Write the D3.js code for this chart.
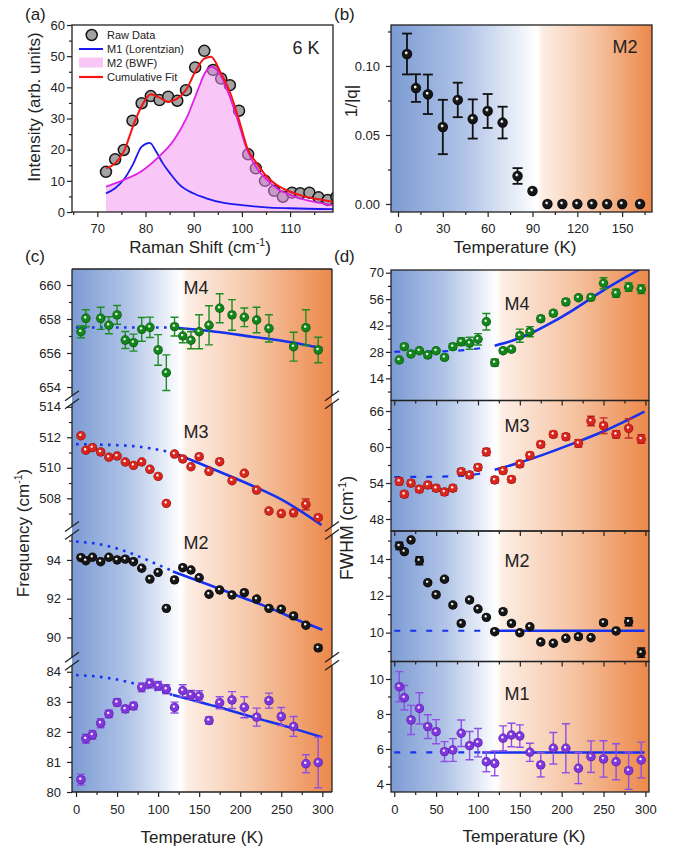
<!DOCTYPE html>
<html>
<head>
<meta charset="utf-8">
<script src="https://cdn.jsdelivr.net/npm/d3@7"></script>
<style>
  body { margin: 0; background: #ffffff; }
  svg { display: block; }
</style>
</head>
<body>
<svg id="fig" width="677" height="848"></svg>
<script>
// ---------- (a) Raman spectrum at 6 K ----------
const ramanShift   = [71.8, 73.7, 75.5, 77.3, 79.2, 81.1, 82.9, 84.7, 86.6, 88.4, 90.3, 92.2, 94.0, 95.7, 97.5, 99.4, 101.3, 102.9, 104.8, 106.7, 108.5, 110.4, 112.1, 114.0, 115.9, 117.8, 119.6];
const rawIntensity = [12.9, 16.9, 19.9, 29.3, 34.9, 37.2, 35.9, 37.0, 35.7, 39.1, 46.4, 51.7, 45.6, 42.8, 40.7, 32.5, 18.5, 14.0, 10.0, 6.8, 4.9, 6.2, 6.0, 6.2, 4.7, 3.85, 4.8];
const lorentzShift = [71.8, 73.7, 75.7, 77.5, 79.2, 80.9, 82.2, 83.6, 85.1, 87.1, 89.9, 92.6, 96, 100, 105, 110, 118.9];
const lorentzFit   = [6.0, 7.6, 10.8, 15.6, 21.0, 22.2, 19.4, 15.6, 12.4, 8.7, 6.0, 4.4, 3.0, 2.2, 1.5, 1.2, 0.9];
const bwfShift     = [71.8, 75.5, 79.0, 82.4, 85.9, 88.5, 91.0, 92.3, 93.7, 95.1, 96.8, 98.9, 101.0, 103.0, 105.2, 107.5, 110.0, 114.8, 118.9];
const bwfFit       = [8.1, 10.3, 12.9, 17.2, 23.1, 30.1, 39.7, 44.5, 46.6, 45.0, 39.7, 30.6, 20.2, 14.2, 10.3, 7.3, 5.5, 3.3, 2.2];
const cumShift     = [71.8, 73.7, 75.5, 77.5, 79.2, 81.1, 82.9, 84.7, 86.4, 88.5, 90.3, 92.2, 93.6, 95.5, 97.6, 99.6, 101.0, 103.1, 105.2, 107.2, 110.0, 112.8, 114.8, 119.0];
const cumFit       = [14.0, 15.6, 19.4, 27.9, 34.0, 37.8, 36.7, 35.4, 36.2, 39.4, 45.0, 49.2, 49.8, 45.0, 38.1, 28.5, 21.0, 15.6, 11.3, 8.7, 6.5, 5.1, 4.4, 3.3];
const legendLabels = ["Raw Data", "M1 (Lorentzian)", "M2 (BWF)", "Cumulative Fit"];

// ---------- (b) 1/|q| of M2 ----------
const tempQ   = [6, 12, 20, 30, 40, 50, 60, 70, 80, 90, 100, 110, 120, 130, 140, 150, 162];
const invQ    = [0.1087, 0.084, 0.0795, 0.0558, 0.0754, 0.0616, 0.0674, 0.059, 0.0203, 0.0094, 0, 0, 0, 0, 0, 0, 0];
const invQErr = [0.0148, 0.010, 0.0143, 0.0197, 0.0125, 0.0142, 0.0123, 0.0115, 0.0057, 0, 0, 0, 0, 0, 0, 0, 0];

// ---------- shared temperatures ----------
const tempAll    = [6, 12, 20, 30, 40, 50, 60, 70, 80, 90, 100, 110, 120, 130, 140, 150, 162, 175, 190, 205, 220, 235, 250, 265, 280, 295];
const tempM4Freq = [6, 12, 30, 40, 50, 60, 70, 80, 90, 100, 110, 120, 130, 140, 150, 162, 175, 190, 205, 220, 235, 265, 280, 295];

// ---------- (c) Frequency ----------
const freqM4    = [657.25, 658.04, 658.04, 657.63, 658.24, 656.76, 656.61, 657.39, 657.51, 656.18, 654.84, 657.55, 657.0, 656.75, 657.25, 657.63, 658.63, 658.24, 658.1, 657.94, 657.45, 656.37, 657.49, 656.18];
const freqM4Err = [0.35, 0.5, 0.65, 0.5, 0.55, 0.5, 0.5, 0.7, 0.6, 0.9, 1.05, 0.55, 0.4, 0.5, 1.0, 1.15, 0.85, 0.9, 0.55, 0.75, 0.8, 0.85, 1.05, 0.75];
const freqM3    = [512.1, 511.15, 511.32, 511.04, 510.69, 510.77, 510.38, 510.16, 510.38, 509.9, 509.44, 507.67, 510.9, 510.58, 510.07, 510.73, 509.77, 510.4, 509.15, 509.64, 508.54, 507.17, 507.0, 507.05, 507.6, 506.73];
const freqM3Err = [0.1, 0.1, 0.1, 0.1, 0.1, 0.1, 0.1, 0.1, 0.1, 0.1, 0.1, 0.1, 0.1, 0.1, 0.1, 0.1, 0.1, 0.1, 0.1, 0.1, 0.1, 0.1, 0.1, 0.1, 0.35, 0.1];
const freqM2    = [94.12, 93.96, 94.14, 93.91, 94.14, 94.0, 94.04, 93.91, 93.57, 93.01, 93.36, 91.5, 92.97, 93.6, 93.48, 93.08, 92.23, 92.45, 92.19, 92.31, 91.98, 91.5, 91.46, 91.11, 90.63, 89.46];
const freqM2Err = [0.05, 0.05, 0.05, 0.05, 0.05, 0.05, 0.05, 0.05, 0.05, 0.05, 0.05, 0.05, 0.05, 0.05, 0.05, 0.05, 0.05, 0.05, 0.05, 0.05, 0.05, 0.05, 0.05, 0.05, 0.05, 0.12];
const freqM1    = [80.41, 81.77, 81.9, 82.29, 82.6, 82.98, 82.76, 82.86, 83.48, 83.61, 83.53, 83.42, 82.81, 83.37, 83.23, 83.19, 82.38, 82.97, 83.06, 82.82, 82.49, 83.04, 82.51, 82.18, 80.94, 80.98];
const freqM1Err = [0.18, 0.15, 0.15, 0.15, 0.12, 0.12, 0.12, 0.12, 0.15, 0.15, 0.15, 0.15, 0.18, 0.2, 0.15, 0.18, 0.12, 0.2, 0.28, 0.35, 0.3, 0.25, 0.3, 0.33, 0.3, 0.84];

// anharmonic fits (low-T extrapolation and high-T fit)
const freqM4LowT  = [0, 118];                          const freqM4LowV  = [657.5, 657.5];
const freqM4HighT = [119, 170, 214, 260, 300];          const freqM4HighV = [657.5, 657.25, 656.96, 656.65, 656.28];
const freqM3LowT  = [0, 29, 70, 90, 110, 118];          const freqM3LowV  = [511.55, 511.52, 511.42, 511.28, 511.08, 511.0];
const freqM3HighT = [118, 150, 190, 220, 251, 299];     const freqM3HighV = [511.0, 510.3, 509.4, 508.7, 507.9, 506.25];
const freqM2LowT  = [0, 30, 60, 80, 100, 118];          const freqM2LowV  = [94.95, 94.8, 94.45, 94.12, 93.75, 93.42];
const freqM2HighT = [118, 160, 200, 240, 270, 300];     const freqM2HighV = [93.4, 92.75, 92.1, 91.45, 90.9, 90.4];
const freqM1LowT  = [0, 29, 62, 86, 118];               const freqM1LowV  = [83.89, 83.83, 83.67, 83.48, 83.23];
const freqM1HighT = [118, 170, 214, 260, 300];          const freqM1HighV = [83.23, 82.85, 82.5, 82.15, 81.82];

// ---------- (d) FWHM ----------
const fwhmM4    = [23.7, 30.8, 26.9, 28.6, 26.4, 28.6, 25.1, 30.8, 33.4, 32.6, 34.7, 44.0, 22.3, 28.6, 29.4, 36.6, 38.7, 45.6, 48.5, 54.5, 56.7, 56.9, 64.4, 59.1, 62.3, 61.2];
const fwhmM4Err = [1.0, 1.2, 1.2, 1.2, 1.5, 1.2, 1.2, 1.5, 2.0, 3.2, 3.0, 4.4, 1.8, 1.2, 1.2, 3.5, 2.7, 1.5, 1.5, 1.5, 1.2, 1.2, 2.9, 2.1, 2.2, 2.3];
const fwhmM3    = [54.28, 52.12, 53.95, 52.95, 53.67, 53.12, 52.5, 53.12, 55.89, 55.33, 56.61, 59.17, 54.5, 56.06, 54.61, 57.17, 58.61, 60.44, 62.11, 61.72, 60.61, 64.33, 63.56, 62.11, 63.11, 61.33];
const fwhmM3Err = [0.6, 0.5, 0.5, 0.5, 0.5, 0.5, 0.5, 0.5, 0.5, 0.5, 0.5, 0.6, 0.5, 0.5, 0.5, 0.5, 0.5, 0.5, 0.5, 0.5, 0.6, 0.8, 1.3, 0.6, 1.6, 0.7];
const fwhmM2    = [14.71, 14.4, 15.03, 13.91, 12.71, 12.06, 12.9, 11.5, 10.5, 11.77, 11.28, 10.83, 10.05, 11.14, 10.5, 9.99, 10.32, 9.49, 9.42, 9.69, 9.78, 9.72, 10.54, 10.09, 10.59, 8.91];
const fwhmM2Err = [0.2, 0.1, 0.1, 0.22, 0.1, 0.1, 0.1, 0.1, 0.1, 0.1, 0.1, 0.1, 0.1, 0.1, 0.1, 0.1, 0.1, 0.1, 0.1, 0.1, 0.1, 0.1, 0.1, 0.1, 0.22, 0.25];
const fwhmM1    = [9.56, 8.93, 7.66, 8.32, 7.28, 6.99, 5.85, 5.94, 6.9, 6.19, 6.36, 5.27, 5.18, 6.61, 6.8, 6.74, 5.81, 5.09, 6.04, 6.04, 4.9, 5.56, 5.43, 5.27, 4.76, 5.37];
const fwhmM1Err = [0.86, 0.7, 0.83, 0.89, 0.68, 0.69, 0.57, 0.65, 0.76, 0.81, 0.81, 0.57, 0.71, 0.71, 0.67, 0.64, 0.52, 0.69, 0.9, 1.4, 0.88, 0.9, 1.04, 1.03, 1.07, 1.02];

const fwhmM4LowT  = [0, 50, 85, 108];                   const fwhmM4LowV  = [28.1, 28.2, 29.0, 30.3];
const fwhmM4HighT = [120, 140, 162, 190, 214, 253, 300]; const fwhmM4HighV = [31.3, 33.8, 37.6, 44.0, 50.3, 61.5, 73.5];
const fwhmM3LowT  = [0, 50, 80, 100, 110];              const fwhmM3LowV  = [55.0, 55.05, 55.2, 55.5, 55.75];
const fwhmM3HighT = [120, 150, 214, 253, 299];          const fwhmM3HighV = [56.2, 57.4, 60.6, 62.8, 65.9];
const fwhmM2LowT  = [0, 115];                           const fwhmM2LowV  = [10.1, 10.1];
const fwhmM2HighT = [120, 299];                         const fwhmM2HighV = [10.1, 10.1];
const fwhmM1LowT  = [0, 103];                           const fwhmM1LowV  = [5.8, 5.8];
const fwhmM1HighT = [105, 299];                         const fwhmM1HighV = [5.8, 5.8];

// ---------- tick values ----------
const tempTicks      = [0, 50, 100, 150, 200, 250, 300];
const tempMinorTicks = [25, 75, 125, 175, 225, 275];
const qTempTicks     = [0, 30, 60, 90, 120, 150];
const qTempMinor     = [15, 45, 75, 105, 135, 165];

// ================= drawing =================
const FONT = '"Liberation Sans", Arial, Helvetica, sans-serif';
const INK = '#222';
const FIT_BLUE = '#1631f0';
const svg = d3.select('#fig').attr('font-family', FONT);
const defs = svg.append('defs');

function hGradient(id, whiteAt) {
  const g = defs.append('linearGradient').attr('id', id)
    .attr('x1', 0).attr('x2', 1).attr('y1', 0).attr('y2', 0);
  [[0, '#7c9bd3'], [whiteAt * 0.5, '#b1c4e7'], [whiteAt - 0.01, '#ffffff'],
   [whiteAt + 0.01, '#fdeee5'], [(1 + whiteAt) / 2, '#f5c3a1'], [1, '#ec884a']]
    .forEach(([o, c]) => g.append('stop').attr('offset', o).attr('stop-color', c));
}
function sphereGrad(id, mid, dark) {
  const g = defs.append('radialGradient').attr('id', id)
    .attr('cx', 0.5).attr('cy', 0.5).attr('r', 0.5).attr('fx', 0.4).attr('fy', 0.36);
  [[0, '#ffffff'], [0.13, '#ffffff'], [0.36, mid], [0.8, mid], [1, dark]]
    .forEach(([o, c]) => g.append('stop').attr('offset', o).attr('stop-color', c));
}
function clip(id, x, y, w, h) {
  defs.append('clipPath').attr('id', id).append('rect')
    .attr('x', x).attr('y', y).attr('width', w).attr('height', h);
}
hGradient('bgB', 0.57);
hGradient('bgC', 0.43);
hGradient('bgD', 0.42);
sphereGrad('sphGreen', '#12861a', '#054a09');
sphereGrad('sphRed', '#d8261e', '#8a0e0a');
sphereGrad('sphBlack', '#161616', '#000000');
sphereGrad('sphPurple', '#7f36dc', '#4a1a94');

function styleAxis(g) {
  g.selectAll('.domain').remove();
  g.selectAll('g').attr('font-family', FONT);
  g.selectAll('line').attr('stroke', INK).attr('stroke-width', 1.2);
  g.selectAll('text').attr('fill', INK).attr('font-size', 13);
}
function leftAxis(parent, scale, x, major, minor, fmt, pad) {
  const g = parent.append('g').attr('transform', `translate(${x},0)`);
  g.append('g').call(d3.axisLeft(scale).tickValues(minor).tickSize(3).tickFormat(''));
  g.append('g').call(d3.axisLeft(scale).tickValues(major).tickSize(5).tickPadding(pad).tickFormat(fmt));
  styleAxis(g);
}
function bottomAxis(parent, scale, y, major, minor, fmt, pad, withLabels = true) {
  const g = parent.append('g').attr('transform', `translate(0,${y})`);
  g.append('g').call(d3.axisBottom(scale).tickValues(minor).tickSize(3).tickFormat(''));
  g.append('g').call(d3.axisBottom(scale).tickValues(major).tickSize(5).tickPadding(pad)
    .tickFormat(withLabels ? fmt : ''));
  styleAxis(g);
}
function text(parent, x, y, str, size, anchor = 'middle') {
  return parent.append('text').attr('x', x).attr('y', y).attr('font-size', size)
    .attr('text-anchor', anchor).attr('fill', INK).text(str);
}
// title with a (cm-1) superscript
function unitTitle(parent, x, y, head, size, rotate) {
  const t = parent.append('text').attr('font-size', size).attr('fill', INK)
    .attr('text-anchor', 'middle')
    .attr('transform', `translate(${x},${y})` + (rotate ? ' rotate(-90)' : ''));
  t.append('tspan').text(head + ' (cm');
  t.append('tspan').attr('font-size', size * 0.62).attr('dy', -size * 0.4).text('-1');
  t.append('tspan').attr('dy', size * 0.4).text(')');
  return t;
}
function rows(T, V, E) { return T.map((t, i) => ({ t, v: V[i], e: E ? E[i] : 0 })); }

function drawPoints(parent, xs, ys, data, grad, errColor, r) {
  const eb = parent.append('g').attr('stroke', errColor).attr('stroke-width', 1.4);
  data.filter(d => d.e > 0).forEach(d => {
    const x = xs(d.t), y1 = ys(d.v - d.e), y2 = ys(d.v + d.e);
    eb.append('line').attr('x1', x).attr('x2', x).attr('y1', y1).attr('y2', y2);
    eb.append('line').attr('x1', x - 4).attr('x2', x + 4).attr('y1', y1).attr('y2', y1);
    eb.append('line').attr('x1', x - 4).attr('x2', x + 4).attr('y1', y2).attr('y2', y2);
  });
  parent.append('g').selectAll('circle').data(data).join('circle')
    .attr('cx', d => xs(d.t)).attr('cy', d => ys(d.v)).attr('r', r)
    .attr('fill', `url(#${grad})`);
}
function fitLine(parent, xs, ys, T, V, dash, width) {
  const line = d3.line().x(d => xs(d[0])).y(d => ys(d[1])).curve(d3.curveMonotoneX);
  parent.append('path').attr('d', line(T.map((t, i) => [t, V[i]])))
    .attr('fill', 'none').attr('stroke', FIT_BLUE).attr('stroke-width', width)
    .attr('stroke-dasharray', dash);
}

// ================= panel (a) =================
{
  const L = 72, R = 333, T = 25, B = 212;
  const x = d3.scaleLinear([64.75, 118.9], [L, R]);
  const y = d3.scaleLinear([0, 60], [B, T]);
  const g = svg.append('g');
  clip('clipA', L, T, R - L, B - T);
  const plot = g.append('g').attr('clip-path', 'url(#clipA)');

  plot.append('g').selectAll('circle').data(ramanShift).join('circle')
    .attr('cx', d => x(d)).attr('cy', (d, i) => y(rawIntensity[i])).attr('r', 5.5)
    .attr('fill', '#a3a3a3').attr('stroke', '#151515').attr('stroke-width', 1.5);

  const bwf = bwfShift.map((s, i) => [s, bwfFit[i]]);
  plot.append('path')
    .attr('d', d3.area().x(d => x(d[0])).y0(y(0)).y1(d => y(d[1])).curve(d3.curveMonotoneX)(bwf))
    .attr('fill', '#f28ff0').attr('fill-opacity', 0.5);
  const ln = d3.line().x(d => x(d[0])).y(d => y(d[1])).curve(d3.curveMonotoneX);
  plot.append('path').attr('d', ln(lorentzShift.map((s, i) => [s, lorentzFit[i]])))
    .attr('fill', 'none').attr('stroke', '#1a1af0').attr('stroke-width', 1.8);
  plot.append('path').attr('d', ln(bwf))
    .attr('fill', 'none').attr('stroke', '#e01ee6').attr('stroke-width', 1.8);
  plot.append('path').attr('d', ln(cumShift.map((s, i) => [s, cumFit[i]])))
    .attr('fill', 'none').attr('stroke', '#f41414').attr('stroke-width', 2);

  g.append('rect').attr('x', L).attr('y', T).attr('width', R - L).attr('height', B - T)
    .attr('fill', 'none').attr('stroke', INK).attr('stroke-width', 1.3);
  leftAxis(g, y, L, d3.range(0, 61, 10), d3.range(5, 60, 10), d3.format('d'), 2);
  bottomAxis(g, x, B, d3.range(70, 111, 10), [65, 75, 85, 95, 105, 115], d3.format('d'), 6.5);

  // legend
  const lg = g.append('g');
  lg.append('circle').attr('cx', 91.7).attr('cy', 35).attr('r', 5.5)
    .attr('fill', '#a3a3a3').attr('stroke', '#151515').attr('stroke-width', 1.5);
  lg.append('line').attr('x1', 79).attr('x2', 103).attr('y1', 49).attr('y2', 49)
    .attr('stroke', '#1a1af0').attr('stroke-width', 2);
  lg.append('rect').attr('x', 79).attr('y', 57.5).attr('width', 24).attr('height', 10)
    .attr('fill', '#f28ff0').attr('fill-opacity', 0.5);
  lg.append('line').attr('x1', 79).attr('x2', 103).attr('y1', 77).attr('y2', 77)
    .attr('stroke', '#f41414').attr('stroke-width', 2.2);
  legendLabels.forEach((s, i) => text(lg, 107, 39 + i * 14, s, 11, 'start'));

  text(g, 306, 54, '6 K', 18);
  g.append('text').attr('font-size', 17).attr('fill', INK).attr('text-anchor', 'middle')
    .attr('transform', 'translate(40,107) rotate(-90)').text('Intensity (arb. units)');
  unitTitle(g, 200, 253, 'Raman Shift', 17, false);
  text(g, 25, 20, '(a)', 17, 'start');
}

// ================= panel (b) =================
{
  const L = 391, R = 652, T = 25, B = 212;
  const x = d3.scaleLinear([-4.7, 170], [L, R]);
  const y = d3.scaleLinear([-0.0058, 0.1297], [B, T]);
  const g = svg.append('g');
  g.append('rect').attr('x', L).attr('y', T).attr('width', R - L).attr('height', B - T)
    .attr('fill', 'url(#bgB)');
  clip('clipB', L, T, R - L, B - T);
  const plot = g.append('g').attr('clip-path', 'url(#clipB)');
  const eb = plot.append('g').attr('stroke', '#111').attr('stroke-width', 1.8);
  tempQ.forEach((t, i) => {
    if (invQErr[i] <= 0) return;
    const xx = x(t), y1 = y(invQ[i] - invQErr[i]), y2 = y(invQ[i] + invQErr[i]);
    eb.append('line').attr('x1', xx).attr('x2', xx).attr('y1', y1).attr('y2', y2);
    eb.append('line').attr('x1', xx - 5).attr('x2', xx + 5).attr('y1', y1).attr('y2', y1);
    eb.append('line').attr('x1', xx - 5).attr('x2', xx + 5).attr('y1', y2).attr('y2', y2);
  });
  plot.append('g').selectAll('circle').data(tempQ).join('circle')
    .attr('cx', d => x(d)).attr('cy', (d, i) => y(invQ[i])).attr('r', 5.2)
    .attr('fill', 'url(#sphBlack)');
  g.append('rect').attr('x', L).attr('y', T).attr('width', R - L).attr('height', B - T)
    .attr('fill', 'none').attr('stroke', INK).attr('stroke-width', 1.3);
  leftAxis(g, y, L, [0, 0.05, 0.10], [0.025, 0.075, 0.125], d3.format('.2f'), 6);
  bottomAxis(g, x, B, qTempTicks, qTempMinor, d3.format('d'), 7);
  text(g, 625, 53, 'M2', 18);
  g.append('text').attr('font-size', 17).attr('fill', INK).attr('text-anchor', 'middle')
    .attr('transform', 'translate(357,101) rotate(-90)').text('1/|q|');
  text(g, 515, 253, 'Temperature (K)', 17);
  text(g, 334, 20, '(b)', 17, 'start');
}

// ================= panel (c) =================
{
  const L = 72, R = 332, T = 269, B = 792, H = (B - T) / 4;
  const x = d3.scaleLinear([-4.9, 311.8], [L, R]);
  const g = svg.append('g');
  g.append('rect').attr('x', L).attr('y', T).attr('width', R - L).attr('height', B - T)
    .attr('fill', 'url(#bgC)');
  const sections = [
    { name: 'M4', dom: [653.25, 660.94], major: [654, 656, 658, 660], minor: [655, 657, 659],
      T: tempM4Freq, V: freqM4, E: freqM4Err, grad: 'sphGreen', err: '#1f8c24',
      low: [freqM4LowT, freqM4LowV], high: [freqM4HighT, freqM4HighV], labelY: 294 },
    { name: 'M3', dom: [505.89, 514.46], major: [508, 510, 512, 514], minor: [507, 509, 511, 513],
      T: tempAll, V: freqM3, E: freqM3Err, grad: 'sphRed', err: '#c0282a',
      low: [freqM3LowT, freqM3LowV], high: [freqM3HighT, freqM3HighV], labelY: 438 },
    { name: 'M2', dom: [88.77, 95.52], major: [90, 92, 94], minor: [91, 93, 95],
      T: tempAll, V: freqM2, E: freqM2Err, grad: 'sphBlack', err: '#111',
      low: [freqM2LowT, freqM2LowV], high: [freqM2HighT, freqM2HighV], labelY: 549 },
    { name: 'M1', dom: [80, 84.35], major: [80, 81, 82, 83, 84], minor: [80.5, 81.5, 82.5, 83.5],
      T: tempAll, V: freqM1, E: freqM1Err, grad: 'sphPurple', err: '#8e4fe6',
      low: [freqM1LowT, freqM1LowV], high: [freqM1HighT, freqM1HighV], labelY: 656 }
  ];
  sections.forEach((s, k) => {
    const top = T + k * H, bot = top + H;
    const y = d3.scaleLinear(s.dom, [bot, top]);
    clip('clipC' + k, L, top, R - L, H);
    const plot = g.append('g').attr('clip-path', `url(#clipC${k})`);
    text(plot, 196, s.labelY, s.name, 18);
    fitLine(plot, x, y, s.low[0], s.low[1], '2.6,5.4', 2.6);
    fitLine(plot, x, y, s.high[0], s.high[1], null, 2.6);
    drawPoints(plot, x, y, rows(s.T, s.V, s.E), s.grad, s.err, 4.7);
    leftAxis(g, y, L, s.major, s.minor, d3.format('d'), 6);
  });
  // frame with axis breaks
  const fr = g.append('g').attr('stroke', INK).attr('stroke-width', 1.3).attr('fill', 'none');
  fr.append('line').attr('x1', L).attr('x2', R).attr('y1', T).attr('y2', T);
  fr.append('line').attr('x1', L).attr('x2', R).attr('y1', B).attr('y2', B);
  const breaks = [1, 2, 3].map(k => T + k * H);
  const stops = [T, ...breaks.flatMap(b => [b - 4, b + 4]), B];
  [L, R].forEach(x0 => {
    for (let i = 0; i < stops.length; i += 2) {
      fr.append('line').attr('x1', x0).attr('x2', x0).attr('y1', stops[i]).attr('y2', stops[i + 1]);
    }
    breaks.forEach(b => [-4, 4].forEach(d => {
      fr.append('line').attr('x1', x0 - 7).attr('x2', x0 + 7)
        .attr('y1', b + d + 5).attr('y2', b + d - 5);
    }));
  });
  bottomAxis(g, x, B, tempTicks, tempMinorTicks, d3.format('d'), 8);
  unitTitle(g, 29, 533, 'Frequency', 17, true);
  text(g, 202, 843, 'Temperature (K)', 17);
  text(g, 25, 262, '(c)', 17, 'start');
}

// ================= panel (d) =================
{
  const L = 391, R = 649, T = 270, B = 792, H = (B - T) / 4;
  const x = d3.scaleLinear([-3.9, 304.3], [L, R]);
  const g = svg.append('g');
  g.append('rect').attr('x', L).attr('y', T).attr('width', R - L).attr('height', B - T)
    .attr('fill', 'url(#bgD)');
  const sections = [
    { name: 'M4', dom: [2.24, 71.43], major: [14, 28, 42, 56, 70], minor: [7, 21, 35, 49, 63],
      V: fwhmM4, E: fwhmM4Err, grad: 'sphGreen', err: '#1f8c24',
      low: [fwhmM4LowT, fwhmM4LowV], high: [fwhmM4HighT, fwhmM4HighV], labelY: 310 },
    { name: 'M3', dom: [46, 67.75], major: [48, 54, 60, 66], minor: [51, 57, 63],
      V: fwhmM3, E: fwhmM3Err, grad: 'sphRed', err: '#c0282a',
      low: [fwhmM3LowT, fwhmM3LowV], high: [fwhmM3HighT, fwhmM3HighV], labelY: 432 },
    { name: 'M2', dom: [8.43, 15.52], major: [10, 12, 14], minor: [9, 11, 13, 15],
      V: fwhmM2, E: fwhmM2Err, grad: 'sphBlack', err: '#111',
      low: [fwhmM2LowT, fwhmM2LowV], high: [fwhmM2HighT, fwhmM2HighV], labelY: 567 },
    { name: 'M1', dom: [3.54, 11.0], major: [4, 6, 8, 10], minor: [5, 7, 9],
      V: fwhmM1, E: fwhmM1Err, grad: 'sphPurple', err: '#8e4fe6',
      low: [fwhmM1LowT, fwhmM1LowV], high: [fwhmM1HighT, fwhmM1HighV], labelY: 700 }
  ];
  sections.forEach((s, k) => {
    const top = T + k * H, bot = top + H;
    const y = d3.scaleLinear(s.dom, [bot, top]);
    clip('clipD' + k, L, top, R - L, H);
    const plot = g.append('g').attr('clip-path', `url(#clipD${k})`);
    text(plot, 517, s.labelY, s.name, 18);
    fitLine(plot, x, y, s.low[0], s.low[1], '6,10', 2.2);
    fitLine(plot, x, y, s.high[0], s.high[1], null, 2.6);
    drawPoints(plot, x, y, rows(tempAll, s.V, s.E), s.grad, s.err, 4.7);
    leftAxis(g, y, L, s.major, s.minor, d3.format('d'), 2);
    g.append('rect').attr('x', L).attr('y', top).attr('width', R - L).attr('height', H)
      .attr('fill', 'none').attr('stroke', INK).attr('stroke-width', 1.3);
    if (k > 0) bottomAxis(g, x, top, tempTicks, tempMinorTicks, null, 0, false);
  });
  bottomAxis(g, x, B, tempTicks, tempMinorTicks, d3.format('d'), 8);
  unitTitle(g, 353, 528, 'FWHM', 17.5, true);
  text(g, 524, 842, 'Temperature (K)', 17);
  text(g, 334, 262, '(d)', 17, 'start');
}
</script>
</body>
</html>
